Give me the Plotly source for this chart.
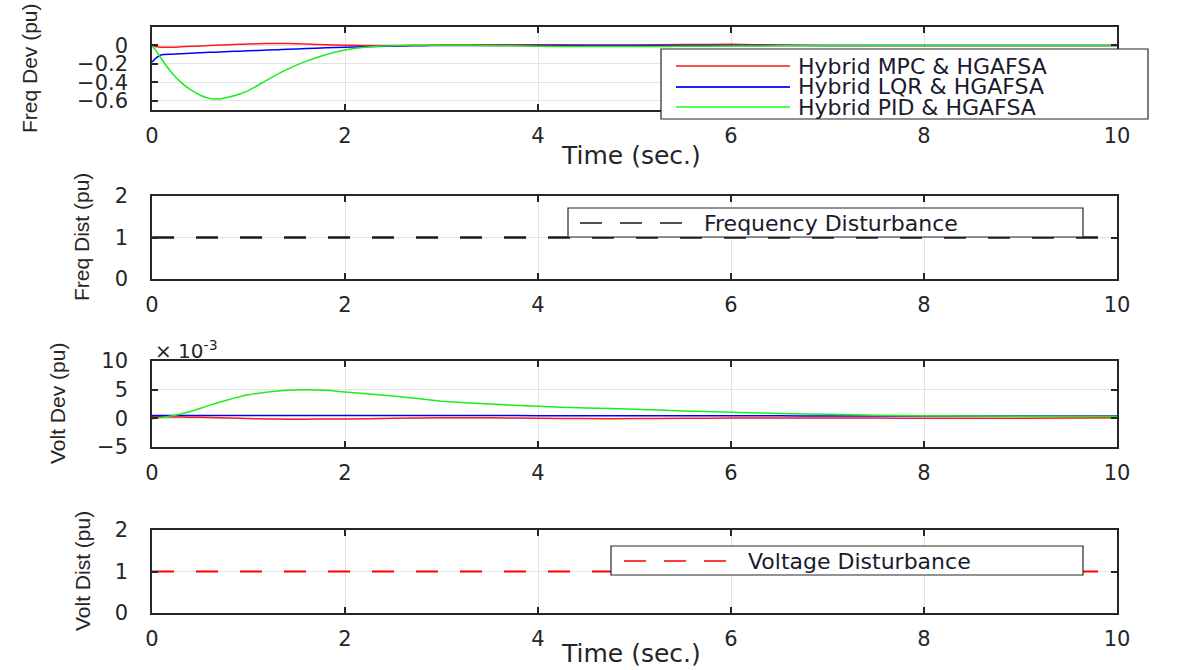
import plotly.graph_objects as go

# ---------------- data ----------------
t_fd = [0, 0.05, 0.1, 0.2, 0.3, 0.4, 0.5, 0.6, 0.7, 0.8, 0.9, 1.0, 1.2, 1.4, 1.6, 1.8,
        2.0, 2.2, 2.4, 2.6, 2.8, 3.0, 3.5, 4.0, 4.5, 5.0, 5.5, 6.0, 6.5, 7.0, 8.0, 9.0, 10.0]
fd_mpc = [0, -0.015, -0.02, -0.02, -0.015, -0.01, -0.005, 0, 0.004, 0.008, 0.012, 0.015,
          0.02, 0.02, 0.015, 0.008, 0.002, 0, 0, 0, 0.002, 0.004, 0.008, 0.008, 0.005,
          0.005, 0.01, 0.012, 0.005, 0, 0, 0, 0]
fd_lqr = [-0.18, -0.13, -0.1, -0.095, -0.09, -0.085, -0.08, -0.075, -0.07, -0.066, -0.062,
          -0.058, -0.05, -0.042, -0.034, -0.026, -0.02, -0.014, -0.01, -0.006, -0.003,
          -0.001, 0, 0, 0, 0, 0, 0, 0, 0, 0, 0, 0]
fd_pid = [0, -0.07, -0.15, -0.29, -0.40, -0.48, -0.54, -0.575, -0.58, -0.56, -0.53, -0.49,
          -0.37, -0.26, -0.17, -0.10, -0.05, -0.02, -0.005, 0, 0.003, 0.003, 0, -0.008,
          -0.012, -0.012, -0.01, -0.007, -0.004, -0.002, 0, 0, 0]

t_vd = [0, 0.2, 0.4, 0.6, 0.8, 1.0, 1.2, 1.4, 1.6, 1.8, 2.0, 2.5, 3.0, 3.5, 4.0, 4.5,
        5.0, 5.5, 6.0, 6.5, 7.0, 7.5, 8.0, 9.0, 10.0]
vd_mpc = [0.0003, 0.00025, 0.0002, 0.00015, 0.00005, -0.00005, -0.0001, -0.00015, -0.00015,
          -0.00012, -0.0001, 0.0, 0.0001, 0.0001, 0.0, -0.00005, -0.00005, 0.0, 0.00005,
          0.00005, 0.00005, 0.00005, 0.0, 0.0, 0.0001]
vd_lqr = [0.0005, 0.0005, 0.0005, 0.0005, 0.0005, 0.0005, 0.0005, 0.0005, 0.0005, 0.0005,
          0.0005, 0.0005, 0.0005, 0.00048, 0.00047, 0.00046, 0.00045, 0.00045, 0.00044,
          0.00043, 0.00042, 0.00042, 0.00041, 0.0004, 0.0004]
vd_pid = [-0.0001, 0.0004, 0.0012, 0.0023, 0.0033, 0.0041, 0.0046, 0.0049, 0.0050, 0.0049,
          0.0046, 0.0039, 0.0030, 0.0025, 0.0021, 0.0018, 0.0016, 0.0013, 0.00105, 0.00085,
          0.0007, 0.00055, 0.00045, 0.00035, 0.0003]

t_dist = [0, 10]
freq_dist = [1, 1]
volt_dist = [1, 1]

series_names = ["Hybrid MPC & HGAFSA", "Hybrid LQR & HGAFSA", "Hybrid PID & HGAFSA"]
x_ticks = [0, 2, 4, 6, 8, 10]
fd_ticks = [-0.6, -0.4, -0.2, 0]
fd_ticktext = ["\u22120.6", "\u22120.4", "\u22120.2", "0"]
dist_ticks = [0, 1, 2]
vd_ticks = [-0.005, 0, 0.005, 0.01]
vd_ticktext = ["\u22125", "0", "5", "10"]

# ---------------- styling ----------------
W, H = 1182, 670
def xp(px):
    return px / W
def yp(py):
    return 1 - py / H

AX = "#262626"
GRID = "#e3e3e3"
TICKFONT = dict(family="DejaVu Sans", size=21, color=AX)
COL = ["#ff1a1a", "#0000ff", "#1aee1a"]

fig = go.Figure()

def add(x, y, color, ax, dash=None, width=1.5):
    fig.add_trace(go.Scatter(x=x, y=y, mode="lines", xaxis="x" + ax, yaxis="y" + ax,
                             line=dict(color=color, width=width, dash=dash, shape="spline",
                                       smoothing=0.4),
                             showlegend=False, hoverinfo="skip"))

for ys, c in zip([fd_mpc, fd_lqr, fd_pid], COL):
    add(t_fd, ys, c, "")
add(t_dist, freq_dist, "#1a1a1a", "2", dash="22px,22px", width=2.5)
for ys, c in zip([vd_mpc, vd_lqr, vd_pid], COL):
    add(t_vd, ys, c, "3")
add(t_dist, volt_dist, "#ff0000", "4", dash="22px,22px", width=2)

# panels: (top px, bottom px)
panels = [(27, 110), (196, 279), (361, 447), (530, 613)]
yranges = [[-0.7, 0.2], [0, 2], [-0.005, 0.01], [0, 2]]
yticks = [(fd_ticks, fd_ticktext), (dist_ticks, None), (vd_ticks, vd_ticktext), (dist_ticks, None)]

common = dict(showline=True, linecolor=AX, linewidth=1.5, mirror="ticks", ticks="inside",
              ticklen=6, tickwidth=1.5, tickcolor=AX, showgrid=True, gridcolor=GRID,
              gridwidth=1, zeroline=False, tickfont=TICKFONT, automargin=False,
              fixedrange=True)

layout = dict(template="none", width=W, height=H,
              margin=dict(l=0, r=0, t=0, b=0, pad=0, autoexpand=False),
              paper_bgcolor="white", plot_bgcolor="white", showlegend=False)
for i, ((top, bot), yr, (tv, tt)) in enumerate(zip(panels, yranges, yticks)):
    sfx = "" if i == 0 else str(i + 1)
    layout["xaxis" + sfx] = dict(common, domain=[xp(152), xp(1117)], range=[0, 10],
                                 tickvals=x_ticks, anchor="y" + sfx, ticklabelstandoff=6)
    yax = dict(common, domain=[yp(bot), yp(top)], range=yr, tickvals=tv,
               anchor="x" + sfx, ticklabelstandoff=18)
    if tt is not None:
        yax["ticktext"] = tt
    layout["yaxis" + sfx] = yax
fig.update_layout(**layout)

ann = []
shapes = []
# y-axis titles
for txt, cx, cy in [("Freq Dev (pu)", 30, 68), ("Freq Dist (pu)", 82, 237),
                    ("Volt Dev (pu)", 57, 404), ("Volt Dist (pu)", 82, 571)]:
    ann.append(dict(text=txt, x=xp(cx), y=yp(cy), xref="paper", yref="paper",
                    textangle=-90, showarrow=False, xanchor="center", yanchor="middle",
                    font=dict(family="Liberation Sans", size=21, color=AX)))
# x-axis titles
for cy in [155, 653]:
    ann.append(dict(text="Time (sec.)", x=xp(631), y=yp(cy), xref="paper", yref="paper",
                    showarrow=False, xanchor="center", yanchor="middle",
                    font=dict(family="DejaVu Sans", size=25, color=AX)))
# exponent label
ann.append(dict(text="\u00d7 10<sup>-3</sup>", x=xp(153), y=yp(350), xref="paper", yref="paper",
                showarrow=False, xanchor="left", yanchor="middle",
                font=dict(family="DejaVu Sans", size=20, color=AX)))

LEGFONT = dict(family="DejaVu Sans", size=22, color="#1a1a2e")

def legend_box(x0, x1, y0, y1):
    shapes.append(dict(type="rect", xref="paper", yref="paper", x0=xp(x0), x1=xp(x1),
                       y0=yp(y1), y1=yp(y0), fillcolor="white",
                       line=dict(color=AX, width=1.2), layer="above"))

def legend_item(lx0, lx1, ty, color, label, dash=None, width=1.5):
    shapes.append(dict(type="line", xref="paper", yref="paper", x0=xp(lx0), x1=xp(lx1),
                       y0=yp(ty), y1=yp(ty), line=dict(color=color, width=width, dash=dash),
                       layer="above"))
    ann.append(dict(text=label, x=xp(lx1 + 6), y=yp(ty), xref="paper", yref="paper",
                    showarrow=False, xanchor="left", yanchor="middle", font=LEGFONT))

legend_box(661, 1148, 49, 119)
for name, c, ty in zip(series_names, ["#ff5050", "#2020ff", "#50ff50"], [66, 87, 107]):
    legend_item(676, 790, ty, c, name, width=2)

legend_box(568, 1083, 208, 237)
legend_item(580, 696, 223, "#1a1a1a", "Frequency Disturbance", dash="22px,18px", width=1.5)

legend_box(611, 1083, 546, 575)
legend_item(624, 740, 561, "#ff0000", "Voltage Disturbance", dash="22px,18px", width=1.5)

fig.update_layout(annotations=ann, shapes=shapes)
fig.write_html("out.html", config={"displayModeBar": False},
               post_script="document.body.style.margin='0';document.body.style.overflow='hidden';")
